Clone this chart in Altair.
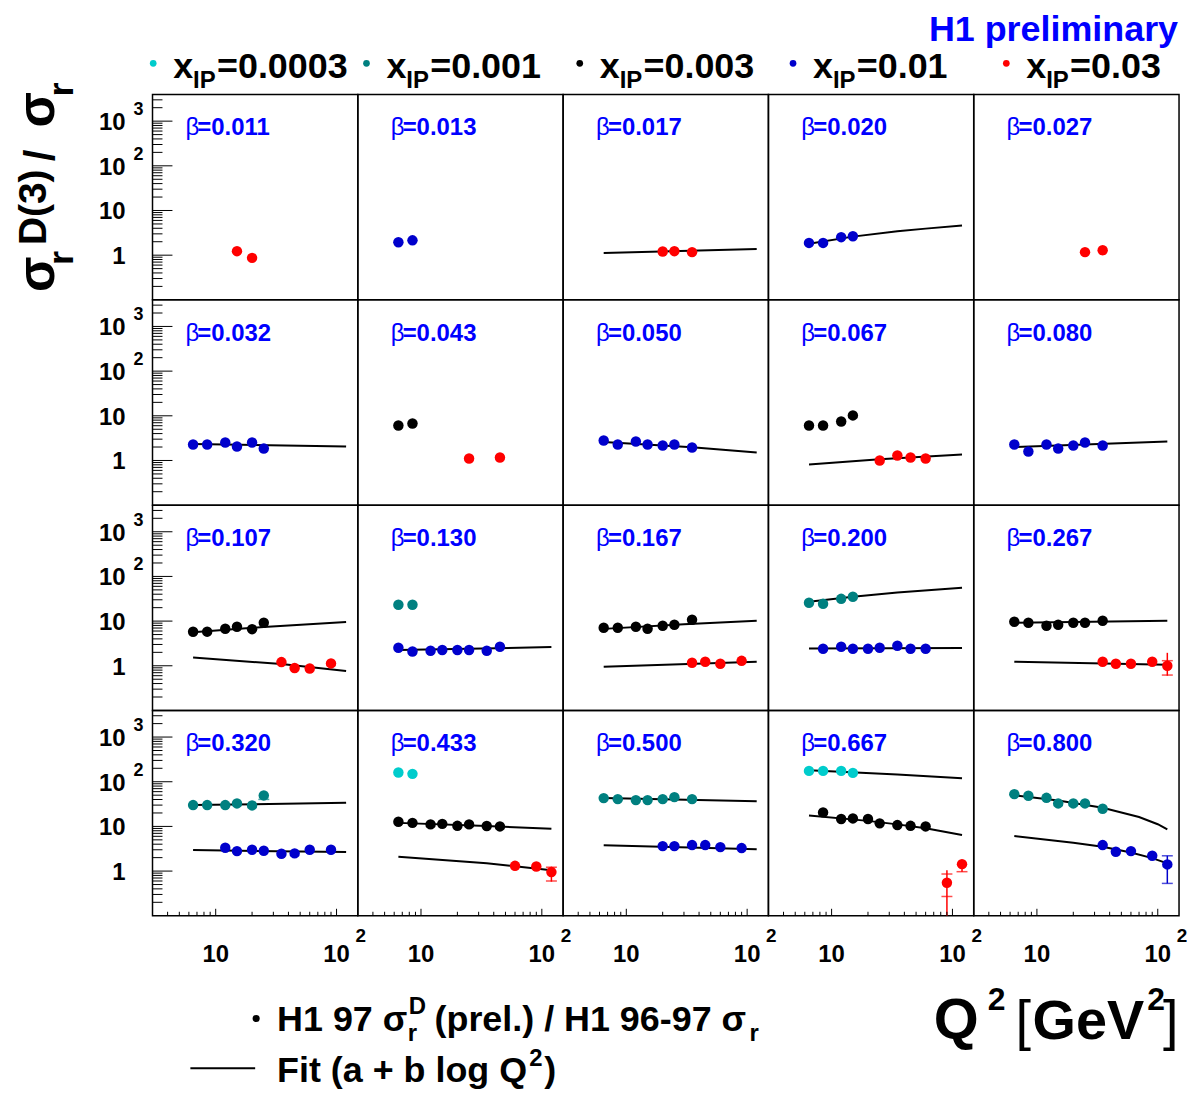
import altair as alt
import pandas as pd

# ---------------- data ----------------
XIP = ["0.0003", "0.001", "0.003", "0.01", "0.03"]
XIP_COLORS = ["#00cccc", "#008080", "#000000", "#0000cc", "#ff0000"]

BETAS = ["0.011", "0.013", "0.017", "0.020", "0.027",
         "0.032", "0.043", "0.050", "0.067", "0.080",
         "0.107", "0.130", "0.167", "0.200", "0.267",
         "0.320", "0.433", "0.500", "0.667", "0.800"]

# points per panel: (x_IP, Q2 values, ratio values)
pts_0011 = [("0.03", [15, 20], [1.23, 0.87])]
pts_0013 = [("0.01", [6.5, 8.5], [1.95, 2.15])]
pts_0017 = [("0.03", [20, 25, 35], [1.21, 1.23, 1.17])]
pts_0020 = [("0.01", [6.5, 8.5, 12, 15], [1.88, 1.88, 2.53, 2.66])]
pts_0027 = [("0.03", [25, 35], [1.17, 1.29])]
pts_0032 = [("0.01", [6.5, 8.5, 12, 15, 20, 25], [2.28, 2.28, 2.53, 2.06, 2.53, 1.85])]
pts_0043 = [("0.003", [6.5, 8.5], [6.07, 6.73]), ("0.03", [25, 45], [1.11, 1.17])]
pts_0050 = [("0.01", [6.5, 8.5, 12, 15, 20, 25, 35], [2.80, 2.28, 2.66, 2.28, 2.17, 2.28, 1.95])]
pts_0067 = [("0.003", [6.5, 8.5, 12, 15], [6.07, 6.07, 7.45, 10.2]),
            ("0.03", [25, 35, 45, 60], [1.0, 1.29, 1.17, 1.11])]
pts_0080 = [("0.01", [6.5, 8.5, 12, 15, 20, 25, 35], [2.28, 1.59, 2.28, 1.85, 2.17, 2.53, 2.17])]
pts_0107 = [("0.003", [6.5, 8.5, 12, 15, 20, 25], [5.76, 5.8, 6.73, 7.45, 6.6, 9.16]),
            ("0.03", [35, 45, 60, 90], [1.21, 0.89, 0.87, 1.13])]
pts_0130 = [("0.001", [6.5, 8.5], [23.2, 23.2]),
            ("0.01", [6.5, 8.5, 12, 15, 20, 25, 35, 45], [2.53, 2.09, 2.17, 2.25, 2.25, 2.25, 2.17, 2.66])]
pts_0167 = [("0.003", [6.5, 8.5, 12, 15, 20, 25, 35], [7.08, 7.08, 7.45, 6.73, 7.85, 8.26, 10.7]),
            ("0.03", [35, 45, 60, 90], [1.17, 1.23, 1.11, 1.29])]
pts_0200 = [("0.001", [6.5, 8.5, 12, 15], [25.7, 24.4, 31.5, 35.0]),
            ("0.01", [8.5, 12, 15, 20, 25, 35, 45, 60], [2.40, 2.66, 2.40, 2.40, 2.53, 2.80, 2.40, 2.40])]
pts_0267 = [("0.003", [6.5, 8.5, 12, 15, 20, 25, 35], [9.65, 9.16, 7.85, 8.26, 9.16, 9.16, 10.2]),
            ("0.03", [35, 45, 60, 90, 120], [1.23, 1.11, 1.11, 1.23, 1.0])]
pts_0320 = [("0.001", [6.5, 8.5, 12, 15, 20, 25], [30.0, 30.0, 30.0, 32.7, 29.5, 49.4]),
            ("0.01", [12, 15, 20, 25, 35, 45, 60, 90], [3.32, 2.80, 3.0, 2.85, 2.44, 2.49, 3.0, 3.0])]
pts_0433 = [("0.0003", [6.5, 8.5], [161, 150]),
            ("0.003", [6.5, 8.5, 12, 15, 20, 25, 35, 45], [12.7, 12.0, 11.1, 11.4, 10.3, 11.1, 10.2, 10.0]),
            ("0.03", [60, 90, 120], [1.31, 1.27, 0.95])]
pts_0500 = [("0.001", [6.5, 8.5, 12, 15, 20, 25, 35], [43.0, 40.8, 38.8, 38.8, 40.8, 45.2, 40.8]),
            ("0.01", [20, 25, 35, 45, 60, 90], [3.62, 3.62, 3.82, 3.82, 3.44, 3.27])]
pts_0667 = [("0.0003", [6.5, 8.5, 12, 15], [175, 175, 175, 158]),
            ("0.003", [8.5, 12, 15, 20, 25, 35, 45, 60], [20.6, 14.6, 15.1, 14.6, 11.7, 10.7, 10.3, 10.0]),
            ("0.03", [90, 120], [0.55, 1.43])]
pts_0800 = [("0.001", [6.5, 8.5, 12, 15, 20, 25, 35], [52.8, 48.4, 43.6, 32.7, 32.7, 32.7, 24.8]),
            ("0.01", [35, 45, 60, 90, 120], [3.82, 2.70, 2.80, 2.20, 1.41])]

# fit curves per panel
fit_0011 = []
fit_0013 = []
fit_0017 = [("0.03", [6.5, 120], [1.12, 1.38])]
fit_0020 = [("0.01", [6.5, 15, 35, 60, 120], [1.80, 2.60, 3.42, 3.93, 4.60])]
fit_0027 = []
fit_0032 = [("0.01", [6.5, 120], [2.35, 2.05])]
fit_0043 = []
fit_0050 = [("0.01", [6.5, 35, 120], [2.60, 1.97, 1.51])]
fit_0067 = [("0.03", [6.5, 25, 120], [0.81, 1.06, 1.36])]
fit_0080 = [("0.01", [6.5, 120], [2.00, 2.66])]
fit_0107 = [("0.003", [6.5, 25, 120], [5.6, 7.4, 9.5]), ("0.03", [6.5, 35, 120], [1.53, 1.09, 0.76])]
fit_0130 = [("0.01", [6.5, 120], [2.25, 2.62])]
fit_0167 = [("0.003", [6.5, 30, 120], [6.7, 8.5, 10.2]), ("0.03", [6.5, 120], [0.95, 1.23])]
fit_0200 = [("0.001", [6.5, 15, 35, 120], [27.0, 35.2, 43.5, 55.6]), ("0.01", [6.5, 120], [2.45, 2.50])]
fit_0267 = [("0.003", [6.5, 120], [9.2, 10.2]), ("0.03", [6.5, 120], [1.23, 1.05])]
fit_0320 = [("0.001", [6.5, 120], [30.0, 33.7]), ("0.01", [6.5, 120], [2.95, 2.66])]
fit_0433 = [("0.003", [6.5, 35, 120], [12.0, 10.2, 8.84]), ("0.03", [6.5, 35, 120], [2.09, 1.49, 1.05])]
fit_0500 = [("0.001", [6.5, 120], [43.0, 36.8]), ("0.01", [6.5, 120], [3.80, 3.10])]
fit_0667 = [("0.0003", [6.5, 35, 120], [181, 145, 119]),
            ("0.003", [6.5, 20, 35, 60, 120], [17.6, 13.3, 11.1, 9.1, 6.4])]
fit_0800 = [("0.001", [6.5, 15, 35, 70, 100, 120], [50.0, 38.1, 26.1, 16.2, 11.2, 8.6]),
            ("0.01", [6.5, 20, 35, 60, 90, 120], [6.1, 4.3, 3.5, 2.6, 1.95, 1.49])]

# visible error bars: (beta, x_IP, Q2, low, high)
ERRORS = [("0.267", "0.03", 120, 0.60, 1.95),
          ("0.320", "0.001", 25, 40.2, 58.0),
          ("0.433", "0.03", 120, 0.58, 1.25),
          ("0.667", "0.03", 90, 0.10, 1.05),
          ("0.667", "0.03", 120, 0.97, 1.60),
          ("0.800", "0.01", 120, 0.53, 2.20)]
# inner (statistical) error ticks: (beta, x_IP, Q2, value)
ERROR_TICKS = [("0.267", "0.03", 120, 0.62), ("0.267", "0.03", 120, 1.30),
               ("0.320", "0.001", 25, 40.2),
               ("0.433", "0.03", 120, 0.60), ("0.433", "0.03", 120, 1.22),
               ("0.667", "0.03", 90, 0.27), ("0.667", "0.03", 90, 0.86),
               ("0.667", "0.03", 120, 0.97),
               ("0.800", "0.01", 120, 0.53), ("0.800", "0.01", 120, 2.20)]

PANEL_POINTS = [pts_0011, pts_0013, pts_0017, pts_0020, pts_0027,
                pts_0032, pts_0043, pts_0050, pts_0067, pts_0080,
                pts_0107, pts_0130, pts_0167, pts_0200, pts_0267,
                pts_0320, pts_0433, pts_0500, pts_0667, pts_0800]
PANEL_FITS = [fit_0011, fit_0013, fit_0017, fit_0020, fit_0027,
              fit_0032, fit_0043, fit_0050, fit_0067, fit_0080,
              fit_0107, fit_0130, fit_0167, fit_0200, fit_0267,
              fit_0320, fit_0433, fit_0500, fit_0667, fit_0800]

Y_MAJOR = [1, 10, 100, 1000]
Y_MINOR = [0.2, 0.3, 0.4, 0.5, 0.6, 0.7, 0.8, 0.9, 2, 3, 4, 5, 6, 7, 8, 9,
           20, 30, 40, 50, 60, 70, 80, 90, 200, 300, 400, 500, 600, 700, 800, 900, 2000, 3000]
Y_LABEL_MAIN = ["1", "10", "10", "10"]
Y_LABEL_SUP = ["", "", "2", "3"]
X_MAJOR = [10, 100]
X_MINOR = [4, 5, 6, 7, 8, 9, 20, 30, 40, 50, 60, 70, 80, 90]
X_LABEL_MAIN = ["10", "10"]
X_LABEL_SUP = ["", "2"]

# ---------------- styling ----------------
FONT = "Liberation Sans"
LBLUE = "#0000ff"
PW = 206          # panel size
LW = 144          # left label column
TOTAL_W = LW + 5 * PW
NOSTROKE = alt.ViewBackground(stroke="transparent")

XS = alt.Scale(type="log", domain=[3, 150])
YS = alt.Scale(type="log", domain=[0.1, 3940])
COLOR = alt.Color("xip:N", scale=alt.Scale(domain=XIP, range=XIP_COLORS), legend=None)


def xq(f="q2"):
    return alt.X(f"{f}:Q", scale=XS, axis=None)


def yv(f="v"):
    return alt.Y(f"{f}:Q", scale=YS, axis=None)


def txt(s, x, y, size, weight="bold", angle=0, align="left", color="black"):
    return alt.Chart(pd.DataFrame({"t": [s]})).mark_text(
        align=align, baseline="alphabetic", fontSize=size, fontWeight=weight,
        angle=angle, color=color, font=FONT
    ).encode(text="t:N", x=alt.value(x), y=alt.value(y))


def panel(i):
    r, c = divmod(i, 5)
    beta = BETAS[i]
    layers = []
    fit_rows = [dict(xip=k, q2=q, v=v) for k, qs, vs in PANEL_FITS[i] for q, v in zip(qs, vs)]
    if fit_rows:
        layers.append(alt.Chart(pd.DataFrame(fit_rows)).mark_line(color="black", strokeWidth=2).encode(
            x=xq(), y=yv(), detail="xip:N", order="q2:Q"))
    err_rows = [dict(xip=k, q2=q, lo=lo, hi=hi) for b, k, q, lo, hi in ERRORS if b == beta]
    if err_rows:
        layers.append(alt.Chart(pd.DataFrame(err_rows)).mark_rule(strokeWidth=1.5).encode(
            x=xq(), y=yv("lo"), y2="hi:Q", color=COLOR))
    cap_rows = [dict(xip=k, q2=q, v=v) for b, k, q, v in ERROR_TICKS if b == beta]
    if cap_rows:
        layers.append(alt.Chart(pd.DataFrame(cap_rows)).mark_tick(
            orient="horizontal", size=11, thickness=1.5).encode(x=xq(), y=yv(), color=COLOR))
    pt_rows = [dict(xip=k, q2=q, v=v) for k, qs, vs in PANEL_POINTS[i] for q, v in zip(qs, vs)]
    layers.append(alt.Chart(pd.DataFrame(pt_rows)).mark_circle(size=110, opacity=1).encode(
        x=xq(), y=yv(), color=COLOR))
    layers.append(txt("β", 33, 41, 24, weight="normal", color=LBLUE))
    layers.append(txt("=" + beta, 45, 41, 24, color=LBLUE))
    if c == 0:
        layers.append(alt.Chart(pd.DataFrame({"t": Y_MAJOR})).mark_rule(color="black", strokeWidth=1).encode(
            y=yv("t"), x=alt.value(0), x2=alt.value(20)))
        layers.append(alt.Chart(pd.DataFrame({"t": Y_MINOR})).mark_rule(color="black", strokeWidth=1).encode(
            y=yv("t"), x=alt.value(0), x2=alt.value(10)))
    if r == 3:
        layers.append(alt.Chart(pd.DataFrame({"t": X_MAJOR})).mark_rule(color="black", strokeWidth=1).encode(
            x=xq("t"), y=alt.value(PW), y2=alt.value(PW - 7)))
        layers.append(alt.Chart(pd.DataFrame({"t": X_MINOR})).mark_rule(color="black", strokeWidth=1).encode(
            x=xq("t"), y=alt.value(PW), y2=alt.value(PW - 4)))
        xl = pd.DataFrame({"t": X_MAJOR, "m": X_LABEL_MAIN, "s": X_LABEL_SUP})
        layers.append(alt.Chart(xl).mark_text(fontSize=24, fontWeight="bold", align="center",
                                              baseline="alphabetic", font=FONT).encode(
            x=xq("t"), y=alt.value(PW + 46), text="m:N"))
        layers.append(alt.Chart(xl).mark_text(fontSize=19, fontWeight="bold", align="left",
                                              baseline="alphabetic", dx=19, font=FONT).encode(
            x=xq("t"), y=alt.value(PW + 26), text="s:N"))
    return alt.layer(*layers).properties(
        width=PW, height=PW, view=alt.ViewBackground(stroke="black", strokeWidth=1.5))


def ylab(r):
    yl = pd.DataFrame({"t": Y_MAJOR, "m": Y_LABEL_MAIN, "s": Y_LABEL_SUP})
    layers = [
        alt.Chart(yl).mark_text(fontSize=24, fontWeight="bold", align="right", baseline="alphabetic",
                                dy=9, font=FONT).encode(y=yv("t"), x=alt.value(117), text="m:N"),
        alt.Chart(yl).mark_text(fontSize=18, fontWeight="bold", align="left", baseline="alphabetic",
                                dy=-6, font=FONT).encode(y=yv("t"), x=alt.value(125), text="s:N"),
    ]
    if r == 0:
        layers += [
            txt("σ", 45, 198, 52, angle=270),
            txt("r", 64, 171, 36, angle=270),
            txt("D(3)", 37, 151, 39, angle=270),
            txt("/", 45, 67, 42, angle=270),
            txt("σ", 45, 33, 52, angle=270),
            txt("r", 64, 2, 36, angle=270),
        ]
    return alt.layer(*layers).properties(width=LW, height=PW, view=NOSTROKE)


def empty(h):
    return alt.Chart(pd.DataFrame({"t": [0]})).mark_point(opacity=0, size=1).encode(
        x=alt.value(PW / 2), y=alt.value(h / 2)).properties(width=PW, height=h, view=NOSTROKE)


# ---------------- header (drawn from the first grid cell) ----------------
leg = pd.DataFrame({"i": list(range(5)), "xip": XIP, "eq": ["=" + x for x in XIP]})
LX = alt.X("i:Q", scale=alt.Scale(domain=[0, 4], range=[144.7, 144.7 + 4 * 214]), axis=None)
header = alt.layer(
    alt.Chart(leg).mark_circle(size=45, opacity=1).encode(x=LX, y=alt.value(52.7), color=COLOR),
    alt.Chart(leg).mark_text(text="x", align="left", baseline="alphabetic", fontSize=36,
                             fontWeight="bold", dx=20, font=FONT).encode(x=LX, y=alt.value(67)),
    alt.Chart(leg).mark_text(text="IP", align="left", baseline="alphabetic", fontSize=24,
                             fontWeight="bold", dx=40, font=FONT).encode(x=LX, y=alt.value(77)),
    alt.Chart(leg).mark_text(align="left", baseline="alphabetic", fontSize=36,
                             fontWeight="bold", dx=64, font=FONT).encode(x=LX, y=alt.value(67), text="eq:N"),
    txt("H1 preliminary", TOTAL_W - 1, 30, 36, align="right", color=LBLUE),
).properties(width=LW, height=84, view=NOSTROKE)

# ---------------- footer (drawn from the last grid row's first cell) ----------------
footer = alt.layer(
    alt.Chart(pd.DataFrame({"t": ["•"]})).mark_circle(size=50, color="black", opacity=1).encode(
        x=alt.value(248), y=alt.value(103)),
    txt("H1 97 σ", 269, 116, 36),
    txt("r", 400, 126, 24),
    txt("D", 401, 99, 24),
    txt("(prel.) / H1 96-97 σ", 427, 116, 36),
    txt("r", 743, 126, 24),
    alt.Chart(pd.DataFrame({"t": [0]})).mark_rule(color="black", strokeWidth=2).encode(
        x=alt.value(182), x2=alt.value(247), y=alt.value(153)),
    txt("Fit (a + b log Q", 269, 167, 36),
    txt("2", 522, 151, 24),
    txt(")", 537, 167, 36),
    txt("Q", 928, 124, 58),
    txt("2", 982, 95, 32),
    txt("[", 1010, 124, 56, weight="normal"),
    txt("GeV", 1027, 124, 56),
    txt("2", 1142, 95, 32),
    txt("]", 1158, 124, 56, weight="normal"),
).properties(width=LW, height=160, view=NOSTROKE)

cells = [header] + [empty(84) for _ in range(5)]
for r in range(4):
    cells.append(ylab(r))
    cells += [panel(5 * r + c) for c in range(5)]
cells += [footer] + [empty(160) for _ in range(5)]

chart = alt.concat(*cells, columns=6, spacing=0, bounds="flush", align="each").properties(
    padding=0
).configure_view(stroke="transparent").configure_text(font=FONT)

chart.save("out.html", embed_options={"renderer": "svg", "actions": False})
